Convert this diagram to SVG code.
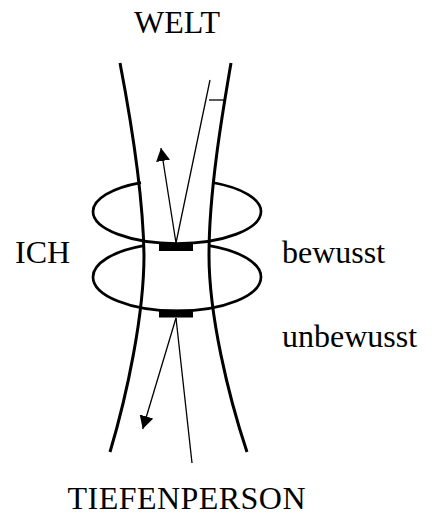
<svg xmlns="http://www.w3.org/2000/svg" width="433" height="517" viewBox="0 0 433 517">
<style>
.lbl{font-family:"Liberation Serif","Times New Roman",serif;font-size:32px;fill:#000}
.tube{fill:none;stroke:#000;stroke-width:3}
.ring{fill:none;stroke:#000;stroke-width:2.7}
.thin{fill:none;stroke:#000;stroke-width:1.3}
</style>
<defs>
<marker id="ah" markerUnits="userSpaceOnUse" markerWidth="14" markerHeight="14" refX="13" refY="7" orient="auto">
<path d="M0,0 L13,7 L0,14 z" fill="#000"/>
</marker>
</defs>
<rect width="433" height="517" fill="#fff"/>
<g id="tube">
<path class="tube" d="M120,63 C129,110 143,190 144,255 C144,315 127,395 110,452"/>
<path class="tube" d="M231,63 C223,110 209,190 209,255 C209,315 228,395 247,452"/>
</g>
<g id="rings">
<path class="ring" d="M141,182.6 A84,32 0 0,0 93,211.5 A84,32 0 0,0 261,211.5 A84,32 0 0,0 212.5,182.5"/>
<path class="ring" d="M144,245.7 A84,34 0 0,0 93,277 A84,34 0 0,0 261,277 A84,34 0 0,0 209,245.6"/>
</g>
<g id="connectors">
<line class="thin" x1="176" y1="243" x2="161" y2="148" marker-end="url(#ah)"/>
<line class="thin" x1="176" y1="243" x2="210" y2="80"/>
<line class="thin" x1="209" y1="100" x2="226" y2="100"/>
<line class="thin" x1="176" y1="318" x2="142.7" y2="429" marker-end="url(#ah)"/>
<line class="thin" x1="176" y1="318" x2="192" y2="463"/>
</g>
<g id="bars">
<rect x="159" y="243" width="34" height="8" fill="#000"/>
<rect x="159" y="309.5" width="34" height="8" fill="#000"/>
</g>
<g id="labels">
<text class="lbl" x="177" y="33" text-anchor="middle">WELT</text>
<text class="lbl" x="15" y="263">ICH</text>
<text class="lbl" x="282" y="262.5">bewusst</text>
<text class="lbl" x="282" y="346.5">unbewusst</text>
<text class="lbl" x="67.5" y="509" textLength="238" lengthAdjust="spacing">TIEFENPERSON</text>
</g>
</svg>
